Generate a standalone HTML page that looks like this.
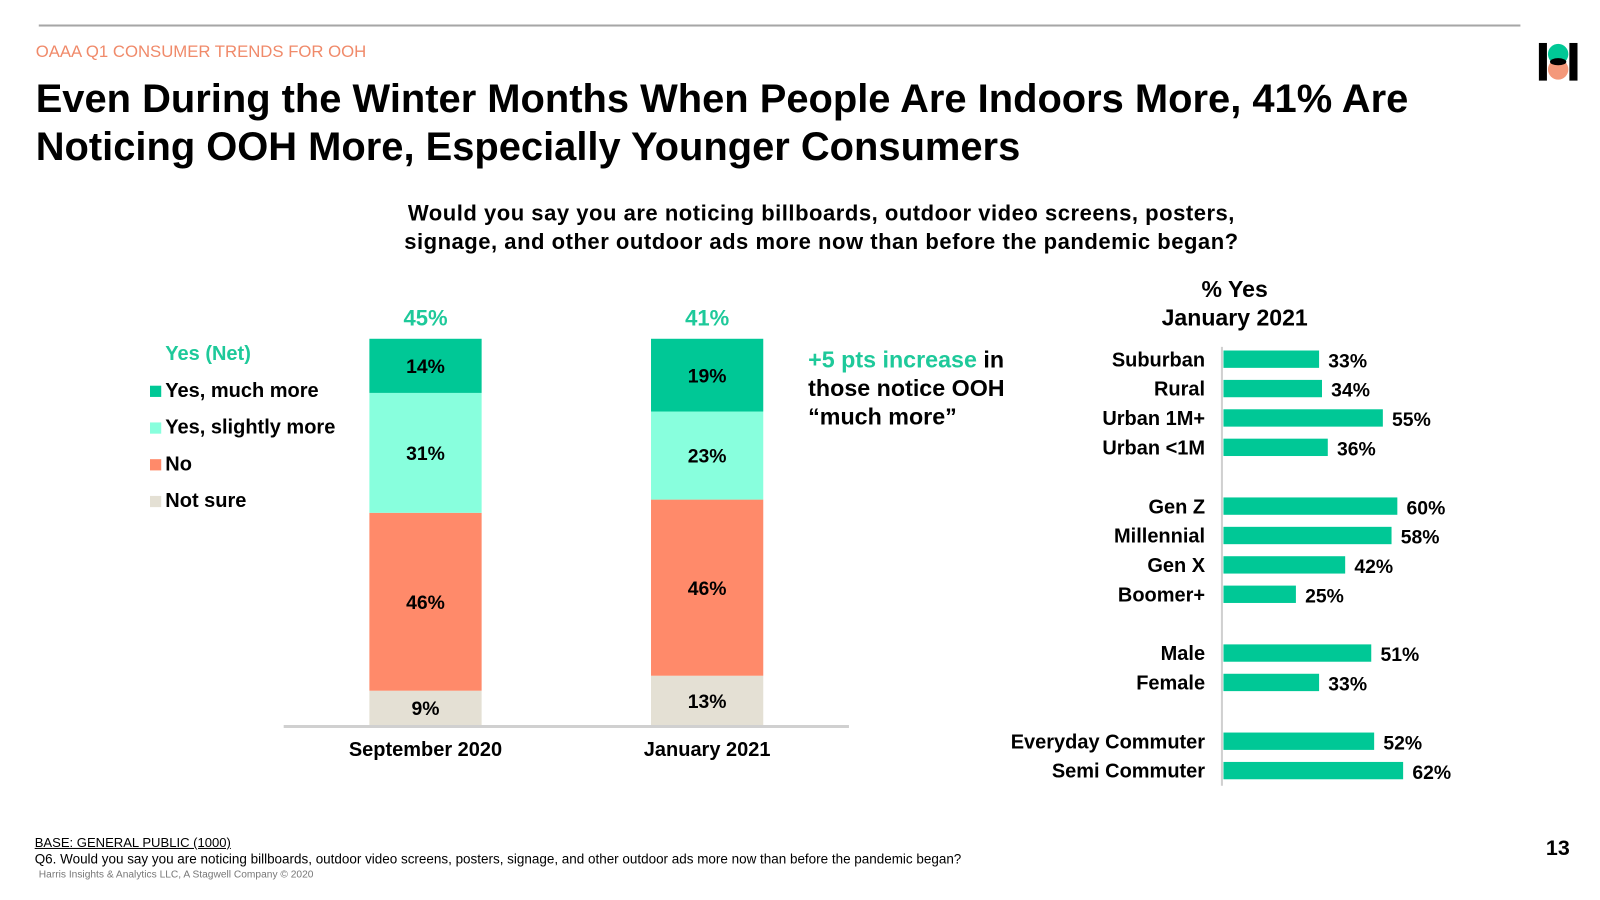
<!DOCTYPE html>
<html><head><meta charset="utf-8">
<style>
html,body{margin:0;padding:0;background:#fff;width:1600px;height:900px;overflow:hidden}
#s{position:absolute;left:0;top:0;width:1568px;height:882px;transform:scale(1.0204);transform-origin:0 0;font-family:"Liberation Sans",Arial,sans-serif}
.a{position:absolute;white-space:nowrap}
.b{font-weight:bold}
</style></head><body>
<div id="s">
<div class="a" style="left:38px;top:24px;width:1452px;height:2px;background:#a6a6a6"></div>
<div class="a" style="left:35px;top:42px;font-size:16.4px;color:#f08a6a">OAAA Q1 CONSUMER TRENDS FOR OOH</div>
<div class="a b" style="left:35px;top:74px;font-size:39.1px;line-height:47px;color:#000">Even During the Winter Months When People Are Indoors More, 41% Are<br>Noticing OOH More, Especially Younger Consumers</div>
<svg class="a" style="left:1508px;top:42px" width="38" height="38">
<rect x="0" y="0" width="8" height="37" fill="#000"/><rect x="30" y="0" width="8" height="37" fill="#000"/>
<circle cx="19" cy="11" r="10" fill="#00c896"/><circle cx="19" cy="26" r="10" fill="#f4987a"/>
<ellipse cx="19" cy="18.5" rx="8" ry="3.5" fill="#000"/>
</svg>
<div class="a b" style="left:300px;top:195px;width:1010px;text-align:center;font-size:21.6px;letter-spacing:0.5px;line-height:28px">Would you say you are noticing billboards, outdoor video screens, posters,<br>signage, and other outdoor ads more now than before the pandemic began?</div>

<div class="a b" style="left:162px;top:336px;font-size:19.6px;color:#1ec99a">Yes (Net)</div>
<div class="a b" style="left:147px;top:372px;font-size:19.6px"><span style="display:inline-block;width:11px;height:11px;background:#00c896;margin-right:4px"></span>Yes, much more</div>
<div class="a b" style="left:147px;top:408px;font-size:19.6px"><span style="display:inline-block;width:11px;height:11px;background:#88ffdd;margin-right:4px"></span>Yes, slightly more</div>
<div class="a b" style="left:147px;top:444px;font-size:19.6px"><span style="display:inline-block;width:11px;height:11px;background:#ff8a6a;margin-right:4px"></span>No</div>
<div class="a b" style="left:147px;top:480px;font-size:19.6px"><span style="display:inline-block;width:11px;height:11px;background:#e4e0d4;margin-right:4px"></span>Not sure</div>

<svg class="a" id="stack" style="left:0;top:0" width="1568" height="882"></svg>

<div class="a b" style="left:792px;top:338px;font-size:22.8px;line-height:28px"><span style="color:#1ec99a">+5 pts increase</span> in<br>those notice OOH<br>“much more”</div>

<div class="a b" style="left:1110px;top:270px;width:200px;text-align:center;font-size:22.6px;line-height:28px">% Yes<br>January 2021</div>
<svg class="a" id="hbar" style="left:0;top:0" width="1568" height="882"></svg>

<div class="a" style="left:34px;top:818px;font-size:12.8px;text-decoration:underline">BASE: GENERAL PUBLIC (1000)</div>
<div class="a" style="left:34px;top:834px;font-size:13.2px">Q6. Would you say you are noticing billboards, outdoor video screens, posters, signage, and other outdoor ads more now than before the pandemic began?</div>
<div class="a" style="left:38px;top:852px;font-size:10px;color:#777">Harris Insights &amp; Analytics LLC, A Stagwell Company © 2020</div>
<div class="a b" style="left:1515px;top:820px;font-size:21px">13</div>
</div>
<script>
const periods=["September 2020","January 2021"];
const netYes=[45,41];
const muchMore=[14,19];
const slightlyMore=[31,23];
const noVals=[46,46];
const notSure=[9,13];

const groups=["Suburban","Rural","Urban 1M+","Urban <1M","Gen Z","Millennial","Gen X","Boomer+","Male","Female","Everyday Commuter","Semi Commuter"];
const yesPct=[33,34,55,36,60,58,42,25,51,33,52,62];
const groupGap=[0,0,0,0,1,1,1,1,2,2,3,3];

const NS="http://www.w3.org/2000/svg";
function mk(svg,tag,attrs,text){const e=document.createElementNS(NS,tag);for(const k in attrs)e.setAttribute(k,attrs[k]);if(text!==undefined)e.textContent=text;svg.appendChild(e);return e;}
const FF='Liberation Sans, Arial, sans-serif';

const st=document.getElementById('stack');
const base=711,top0=332;
const xc=i=>417+i*276;
const segs=[[notSure,"#e4e0d4","not-sure"],[noVals,"#ff8a6a","no"],[slightlyMore,"#88ffdd","slightly-more"],[muchMore,"#00c896","much-more"]];
periods.forEach((p,i)=>{
  const total=segs.reduce((s,[arr])=>s+arr[i],0);
  const ph=(base-top0)/total;
  let y=base;
  segs.forEach(([arr,col,nm])=>{
    const h=arr[i]*ph;y-=h;
    const r=mk(st,'rect',{x:xc(i)-55,y:y,width:110,height:h,fill:col});
    
    
    const t=mk(st,'text',{x:xc(i),y:y+h/2+7,'text-anchor':'middle','font-size':19,'font-weight':'bold','font-family':FF},arr[i]+'%');
    
    
  });
  const n=mk(st,'text',{x:xc(i),y:319,'text-anchor':'middle','font-size':21.6,'font-weight':'bold',fill:'#1ec99a','font-family':FF},netYes[i]+'%');
  
  
  const c=mk(st,'text',{x:xc(i),y:741,'text-anchor':'middle','font-size':19.6,'font-weight':'bold','font-family':FF},p);
  
  
});
const ax=mk(st,'line',{x1:278,x2:832,y1:712,y2:712,stroke:'#d0d0d0','stroke-width':3});



const hb=document.getElementById('hbar');
const x0=1199,pp=2.84;
const yc=i=>352+i*28.8+groupGap[i]*28.8;
const va=mk(hb,'line',{x1:1197.5,x2:1197.5,y1:340,y2:770,stroke:'#d0d0d0','stroke-width':2});


groups.forEach((g,i)=>{
  const y=yc(i);
  const r=mk(hb,'rect',{x:x0,y:y-8.5,width:yesPct[i]*pp,height:17,fill:'#00c896'});
  
  
  const l=mk(hb,'text',{x:1181,y:y+7,'text-anchor':'end','font-size':19.6,'font-weight':'bold','font-family':FF},g);
  
  
  const v=mk(hb,'text',{x:x0+yesPct[i]*pp+9,y:y+8,'font-size':19,'font-weight':'bold','font-family':FF},yesPct[i]+'%');
  
  
});
</script>
</body></html>
